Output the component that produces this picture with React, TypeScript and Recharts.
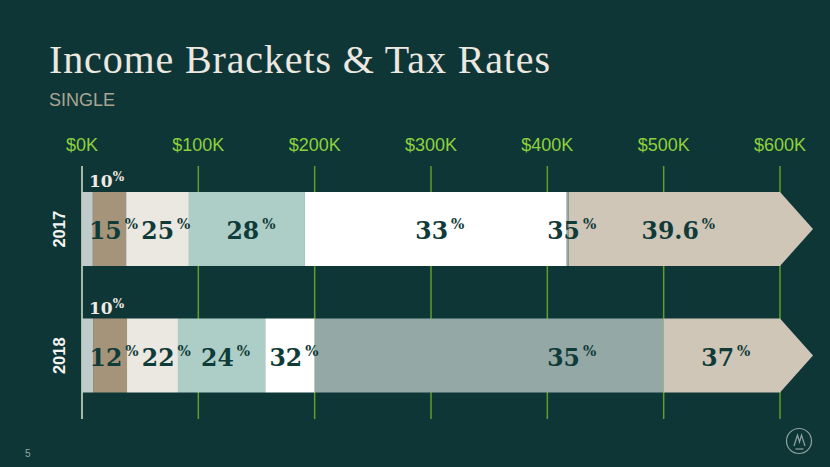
import { Bar, BarChart, CartesianGrid, LabelList, ReferenceLine, XAxis, YAxis } from 'recharts'

const YEARS = ['2017', '2018']
const RATES_2017 = ['10', '15', '25', '28', '33', '35', '39.6']
const RATES_2018 = ['10', '12', '22', '24', '32', '35', '37']
// upper bound of each bracket (single filer); the top bracket is open-ended
const BRACKET_TOPS_2017 = [9325, 37950, 91900, 191650, 416700, 418400]
const BRACKET_TOPS_2018 = [9525, 38700, 82500, 157500, 200000, 500000]
const X_TICKS = [0, 100000, 200000, 300000, 400000, 500000, 600000]

const AXIS_MAX = X_TICKS[X_TICKS.length - 1]
const RATES = [RATES_2017, RATES_2018]
const TOPS = [BRACKET_TOPS_2017, BRACKET_TOPS_2018]

const SEGMENT_COLORS = ['#bfcccb', '#a59479', '#ebe7e1', '#adcec7', '#ffffff', '#94a8a6', '#cfc6b8']
// brackets whose labels share a column across both years
const ALIGNED_SEGMENTS = [5]

const BG = '#0f3637'
const DARK_TEXT = '#0f3b38'
const SERIF = '"DejaVu Serif", serif'
const SANS = '"Liberation Sans", Arial, sans-serif'
const NUM_SIZE = 23.5
const PCT_SIZE = 14
const PCT_GAP = 3

const WIDTHS = TOPS.map((tops) => [
  ...tops.map((top, i) => top - (i ? tops[i - 1] : 0)),
  AXIS_MAX - tops[tops.length - 1]
])
const STARTS = TOPS.map((tops) => [0, ...tops])

const rows = YEARS.map((year, yi) => {
  const row: Record<string, string | number> = { year }
  WIDTHS[yi].forEach((w, si) => {
    row[`s${si}`] = w
  })
  return row
})

// rough rendered width of "NN %" in DejaVu Serif Bold
function labelWidth(rate: string) {
  const digits = rate.replace(/[^0-9]/g, '').length
  const dots = rate.length - digits
  return digits * 0.696 * NUM_SIZE + dots * 0.38 * NUM_SIZE + PCT_GAP + 0.9 * PCT_SIZE
}

// label centres for one bar, centred on their bracket but pushed right so neighbours don't collide
function labelCenters(yi: number, origin: number, perDollar: number) {
  const centers: number[] = []
  for (let si = 1; si < RATES[yi].length; si++) {
    const mid = ALIGNED_SEGMENTS.includes(si)
      ? STARTS[0][si] + WIDTHS[0][si] / 2
      : STARTS[yi][si] + WIDTHS[yi][si] / 2
    let c = origin + mid * perDollar + 4
    if (si > 1) {
      const prev = centers[si - 1]
      const minC = prev + (labelWidth(RATES[yi][si - 1]) + labelWidth(RATES[yi][si])) / 2 + 4
      c = Math.max(c, minC)
    }
    centers[si] = c
  }
  return centers
}

function ArrowShape(props: any) {
  const { x, y, width, height, fill } = props
  const tip = 33
  return (
    <path
      d={`M${x},${y}H${x + width}L${x + width + tip},${y + height / 2}L${x + width},${y + height}H${x}Z`}
      fill={fill}
    />
  )
}

function MoneyTick({ x, y, payload }: any) {
  return (
    <text x={x} y={y - 7} textAnchor="middle" fill="#8cd13b" fontFamily={SANS} fontSize={18}>
      {`$${payload.value / 1000}K`}
    </text>
  )
}

function YearTick({ x, y, payload }: any) {
  const cx = x - 15
  return (
    <text
      x={cx}
      y={y}
      transform={`rotate(-90 ${cx} ${y})`}
      textAnchor="middle"
      dominantBaseline="central"
      fill="#f4f4f2"
      fontFamily={SANS}
      fontWeight="bold"
      fontSize={16.5}
    >
      {payload.value}
    </text>
  )
}

function bracketLabel(segment: number) {
  return (props: any) => {
    const vb = props.viewBox ?? props
    const { x, y, width, height } = vb
    const yi = props.index ?? 0
    const rate = RATES[yi][segment]
    if (segment === 0) {
      return (
        <text x={x + 7} y={y - 5} fill="#efeae2" fontFamily={SERIF} fontWeight="bold" fontSize={17}>
          {rate}
          <tspan fontSize={12} dy={-6}>%</tspan>
        </text>
      )
    }
    const perDollar = width / WIDTHS[yi][segment]
    const origin = x - STARTS[yi][segment] * perDollar
    const cx = labelCenters(yi, origin, perDollar)[segment]
    return (
      <text
        x={cx}
        y={y + height / 2 + 10}
        textAnchor="middle"
        fill={DARK_TEXT}
        fontFamily={SERIF}
        fontWeight="bold"
        fontSize={NUM_SIZE}
      >
        {rate}
        <tspan dx={PCT_GAP} dy={-10} fontSize={PCT_SIZE}>
          %
        </tspan>
      </text>
    )
  }
}

export default function App() {
  return (
    <div style={{ position: 'relative', width: 830, height: 467, background: BG, overflow: 'hidden' }}>
      <style>{'body{margin:0}'}</style>
      <svg width={830} height={467} style={{ position: 'absolute', left: 0, top: 0 }}>
        <text x={49} y={73} fill="#ece8e0" fontFamily='"Liberation Serif", serif' fontSize={40} textLength={501} lengthAdjust="spacing">
          Income Brackets &amp; Tax Rates
        </text>
        <text x={49} y={106} fill="#a8a593" fontFamily={SANS} fontSize={18}>
          SINGLE
        </text>
        <text x={25} y={457} fill="#8fa6a2" fontFamily={SANS} fontSize={10}>
          5
        </text>
        <g stroke="#8fa3a0" strokeWidth={1.2} fill="none">
          <circle cx={799} cy={441} r={12.5} />
          <polyline points="794,446 797.5,435 799.5,442 801.5,435 805,446" />
          <line x1={795.5} y1={449} x2={803.5} y2={449} />
        </g>
      </svg>
      <div style={{ position: 'absolute', left: 0, top: 0 }}>
        <BarChart
          width={830}
          height={467}
          data={rows}
          layout="vertical"
          margin={{ top: 126, right: 50, bottom: 48, left: 0 }}
          barSize={74}
        >
          <CartesianGrid horizontal={false} stroke="#5f9e2c" strokeWidth={1.5} />
          <XAxis
            type="number"
            orientation="top"
            domain={[0, AXIS_MAX]}
            ticks={X_TICKS}
            interval={0}
            height={40}
            axisLine={false}
            tickLine={false}
            tick={MoneyTick}
          />
          <YAxis type="category" dataKey="year" width={82} axisLine={false} tickLine={false} tick={YearTick} />
          <ReferenceLine x={0} stroke="#c3cccc" strokeWidth={1.5} />
          {SEGMENT_COLORS.map((color, si) => (
            <Bar
              key={si}
              dataKey={`s${si}`}
              stackId="brackets"
              fill={color}
              isAnimationActive={false}
              shape={si === SEGMENT_COLORS.length - 1 ? ArrowShape : undefined}
            >
              <LabelList dataKey={`s${si}`} content={bracketLabel(si)} />
            </Bar>
          ))}
        </BarChart>
      </div>
    </div>
  )
}
